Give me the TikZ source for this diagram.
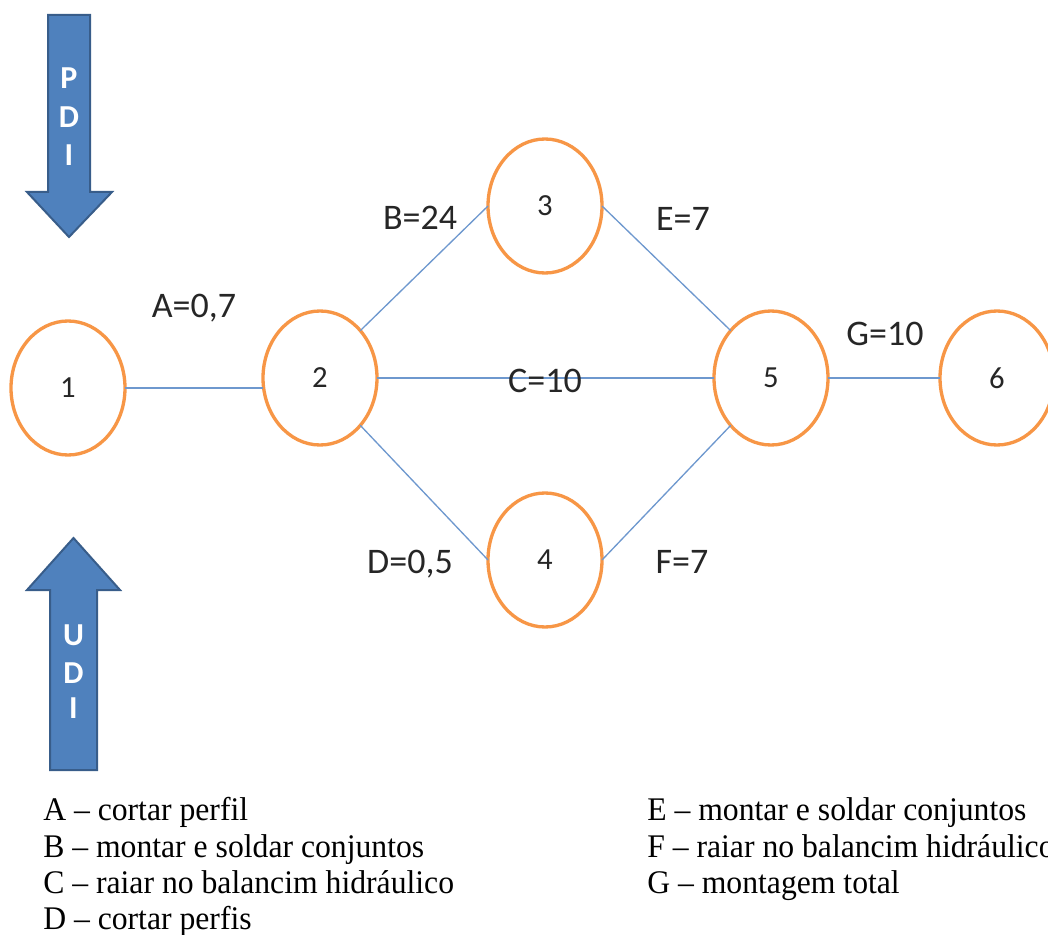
\documentclass[tikz,border=0pt]{standalone}
\usepackage{fontspec}
\setmainfont{Liberation Serif}
\newfontfamily\timesf[FakeStretch=0.96]{Liberation Serif}
\newfontfamily\calib{Carlito}
\usetikzlibrary{shapes.geometric}
\definecolor{orng}{HTML}{F79646}
\definecolor{lnblue}{RGB}{110,152,206}
\definecolor{arrfill}{HTML}{4F81BD}
\definecolor{arrdraw}{HTML}{385D8A}
\begin{document}
\begin{tikzpicture}[x=0.75pt,y=-0.75pt,
  ev/.style={ellipse,draw=orng,line width=2.5pt,minimum width=85.5pt,minimum height=100.5pt,inner sep=0pt,outer sep=0pt,font=\calib\fontsize{23}{26}\selectfont,text=black!85},
  lbl/.style={anchor=base,inner sep=0pt,font=\calib\fontsize{27}{30}\selectfont,text=black!85},
  conn/.style={draw=lnblue,line width=1pt},
  bigarrow/.style={fill=arrfill,draw=arrdraw,line width=1.5pt,line join=miter},
  arrtxt/.style={inner sep=0pt,text=white,font=\calib\bfseries\fontsize{24}{26}\selectfont},
  legend/.style={anchor=base west,inner sep=0pt,font=\timesf\fontsize{24.75}{28}\selectfont}]
\useasboundingbox (0,0) rectangle (1048,934);
\clip (0,0) rectangle (1048,934);
% big arrows
\draw[bigarrow] (48,15) -- (90,15) -- (90,192) -- (112,192) -- (69,237) -- (27,192) -- (48,192) -- cycle;
\node[arrtxt] (pP) at (69,78) {P};
\node[arrtxt] (pD) at (69,117) {D};
\node[arrtxt] (pI) at (69,155) {I};
\draw[bigarrow] (73.5,538) -- (120,590) -- (97,590) -- (97,770) -- (50,770) -- (50,590) -- (27,590) -- cycle;
\node[arrtxt] (uU) at (73.5,635) {U};
\node[arrtxt] (uD) at (73.5,673) {D};
\node[arrtxt] (uI) at (73.5,708) {I};
% event nodes
\node[ev] (n1) at (68,388) {1};
\node[ev] (n2) at (320,378) {2};
\node[ev] (n3) at (545,206) {3};
\node[ev] (n4) at (545,560) {4};
\node[ev] (n5) at (771,378) {5};
\node[ev] (n6) at (997,378) {6};
% connectors
\draw[conn] (n1.east) -- (n1.east -| n2.west);
\draw[conn] (n2.north east) -- (n3.west);
\draw[conn] (n2.east) -- (n5.west);
\draw[conn] (n2.south east) -- (n4.west);
\draw[conn] (n3.east) -- (n5.north west);
\draw[conn] (n4.east) -- (n5.south west);
\draw[conn] (n5.east) -- (n6.west);
% activity labels
\node[lbl] (la) at (194,317) {A=0,7};
\node[lbl] (lb) at (420,229) {B=24};
\node[lbl] (le) at (683,230) {E=7};
\node[lbl] (lc) at (545,392) {C=10};
\node[lbl] (lg) at (885,345) {G=10};
\node[lbl] (ld) at (410,573) {D=0,5};
\node[lbl] (lf) at (682,573) {F=7};
% legend
\node[legend] (ta) at (43,820) {A – cortar perfil};
\node[legend] (tb) at (43,857) {B – montar e soldar conjuntos};
\node[legend] (tc) at (43,893) {C – raiar no balancim hidráulico};
\node[legend] (td) at (43,929) {D – cortar perfis};
\node[legend] (te) at (647,820) {E – montar e soldar conjuntos};
\node[legend] (tf) at (647,857) {F – raiar no balancim hidráulico};
\node[legend] (tg) at (647,893) {G – montagem total};
\end{tikzpicture}
\end{document}
